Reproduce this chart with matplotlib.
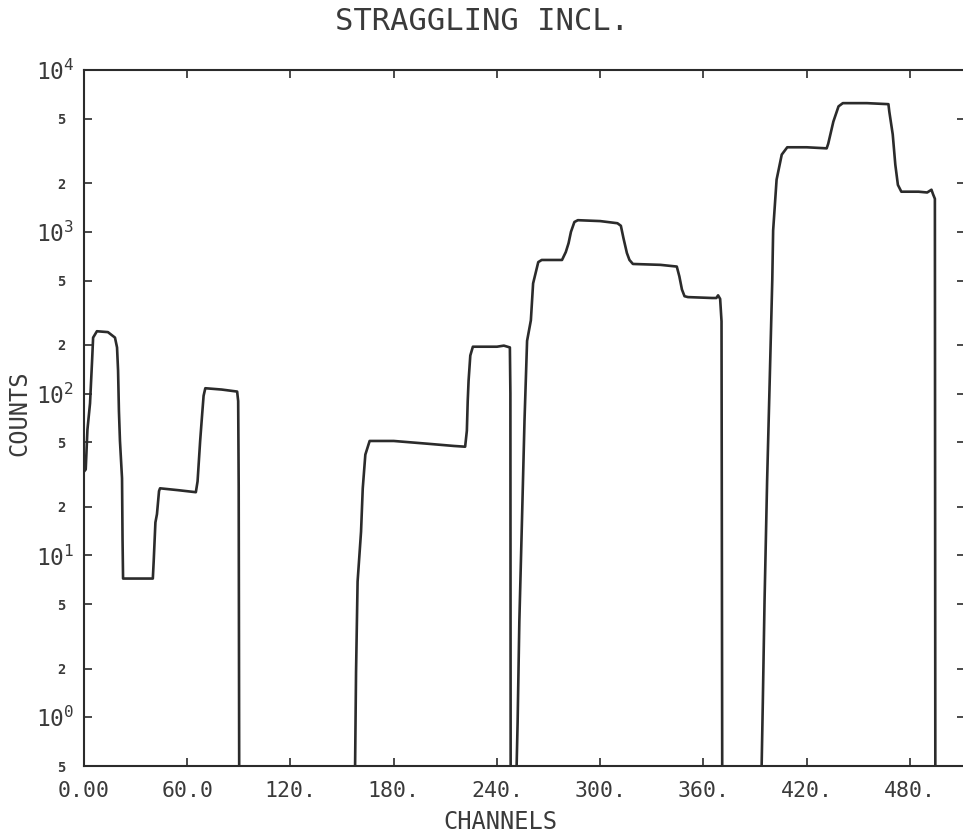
#!/usr/bin/env python
# -*- coding: utf-8 -*-

# Spectrum with straggling included, four step groups on a log scale

import numpy as np
import matplotlib
matplotlib.use('Agg')
import matplotlib.pyplot as plt
from matplotlib.ticker import NullLocator

plt.rcParams['font.family'] = ['DejaVu Sans Mono', 'DejaVu Sans']
plt.rcParams['mathtext.default'] = 'regular'

INK = '#2b2b2b'
TXT = '#3a3a3a'
EMPTY = 0.1   # empty channels, drawn below the axis floor

# group 1 (channels 0 - 90)
ch1 = [0.0, 1.0, 2.0, 3.5, 4.7, 5.3, 7.5, 13.9, 18.0, 19.2, 19.8, 20.3, 20.9,
       22.1, 22.4, 22.7, 40.0, 40.5, 41.5, 42.4, 43.6, 44.2, 55.0, 65.0, 66.0,
       67.5, 68.6, 69.5, 70.5, 80.0, 89.0, 89.6, 89.9, 90.3]
cnt1 = [33, 34, 60, 87, 160, 222, 243, 240, 222, 193, 139, 78, 51,
        30, 12.6, 7.2, 7.2, 9.2, 16, 18, 25, 26, 25.3, 24.6, 28.7,
        51, 73, 97, 108, 106, 103, 90, 27, EMPTY]

# group 2 (channels 157 - 248)
ch2 = [157.3, 157.5, 158.1, 159.0, 161.0, 162.0, 163.5, 166.0, 180.0, 200.0,
       215.0, 221.5, 222.5, 223.0, 223.5, 224.5, 226.0, 240.0, 244.0, 247.5,
       247.8, 248.0]
cnt2 = [EMPTY, 0.45, 1.9, 6.9, 14, 26, 42, 51, 51, 49,
        47.5, 47, 59, 90, 120, 172, 195, 195, 198, 193,
        100, EMPTY]

# group 3 (channels 251 - 371)
ch3 = [251.3, 251.4, 252.0, 253.0, 254.5, 256.0, 257.5, 259.7, 261.0, 264.0,
       266.0, 277.8, 280.0, 281.6, 283.0, 285.0, 287.0, 300.0, 310.0, 312.0,
       313.5, 315.5, 317.0, 319.0, 335.0, 344.5, 346.0, 347.5, 349.0, 351.0,
       365.0, 367.5, 368.5, 369.7, 370.5, 371.0]
cnt3 = [EMPTY, 0.49, 0.93, 3.9, 16, 68, 212, 284, 480, 650,
        670, 670, 750, 850, 1000, 1150, 1180, 1165, 1130, 1090,
        915, 740, 670, 633, 625, 610, 530, 440, 400, 395,
        390, 390, 405, 385, 280, EMPTY]

# group 4 (channels 393 - 495)
ch4 = [393.6, 393.8, 394.5, 395.5, 397.0, 398.5, 400.0, 400.5, 402.5, 405.5,
       408.7, 420.0, 431.6, 432.5, 435.5, 438.5, 441.0, 455.0, 467.5, 468.0,
       470.0, 471.5, 473.0, 475.0, 485.0, 490.0, 492.5, 493.5, 494.5, 494.8,
       512.0]
cnt4 = [EMPTY, 0.49, 1.24, 5.2, 29, 120, 505, 1020, 2100, 3000,
        3330, 3330, 3280, 3500, 4800, 5960, 6240, 6240, 6150, 5540,
        4000, 2600, 1950, 1770, 1770, 1750, 1820, 1700, 1600, EMPTY,
        EMPTY]

x_ticks = [0, 60, 120, 180, 240, 300, 360, 420, 480]
x_labels = ['0.00', '60.0', '120.', '180.', '240.', '300.', '360.', '420.', '480.']

y_ticks = [0.5, 1, 2, 5, 10, 20, 50, 100, 200, 500, 1000, 2000, 5000, 10000]
# trailing space keeps the small 2/5 marks a bit off the axis
y_labels = ['5 ', '$10^{0}$', '2 ', '5 ', '$10^{1}$', '2 ', '5 ', '$10^{2}$', '2 ', '5 ',
            '$10^{3}$', '2 ', '5 ', '$10^{4}$']


def main():
    channels = np.concatenate([ch1, ch2, ch3, ch4])
    counts = np.concatenate([cnt1, cnt2, cnt3, cnt4])

    fig = plt.figure(figsize=(9.63, 8.36), dpi=100)
    ax = fig.add_axes([84 / 963., 70 / 836., 881 / 963., 696 / 836.])

    ax.plot(channels, counts, color=INK, lw=1.9, solid_joinstyle='round')

    ax.set_yscale('log')
    ax.set_xlim(0, 512)
    ax.set_ylim(0.5, 1e4)

    ax.set_xticks(x_ticks)
    ax.set_xticklabels(x_labels, fontsize=15.5, color=TXT)
    ax.set_yticks(y_ticks)
    ax.set_yticklabels(y_labels, color=TXT)
    ax.yaxis.set_minor_locator(NullLocator())
    ax.xaxis.set_minor_locator(NullLocator())
    for lab in ax.get_yticklabels():
        if lab.get_text().startswith('$'):
            lab.set_fontsize(16.5)
        else:
            lab.set_fontsize(10)
            lab.set_fontweight('bold')

    ax.tick_params(axis='both', direction='in', length=6, width=1.2,
                   color=INK, top=True, right=True)
    ax.tick_params(axis='x', pad=11)
    ax.tick_params(axis='y', pad=7)

    for s in ax.spines.values():
        s.set_linewidth(1.5)
        s.set_color(INK)

    fig.text(0.5, 1 - 22 / 836., 'STRAGGLING INCL.', ha='center', va='center',
             fontsize=22, color=TXT)
    fig.text(500 / 963., 14 / 836., 'CHANNELS', ha='center', va='center',
             fontsize=17, color=TXT)
    fig.text(19 / 963., 1 - 413 / 836., 'COUNTS', ha='center', va='center',
             rotation=90, fontsize=17, color=TXT)

    fig.savefig('out.png', dpi=100)


if __name__ == "__main__":
    main()
